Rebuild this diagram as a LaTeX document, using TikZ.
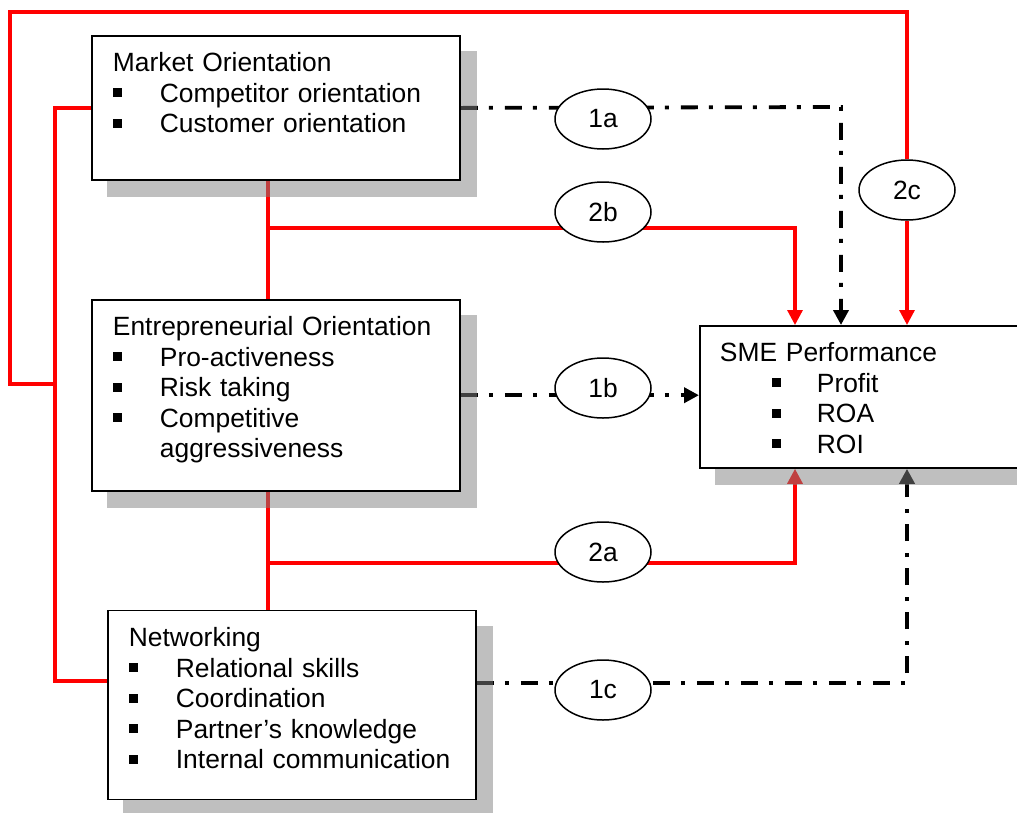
\documentclass[tikz,border=0pt]{standalone}
\usepackage{fontspec}
\setmainfont{Liberation Sans}
\usetikzlibrary{positioning,shapes.geometric,arrows.meta}

\definecolor{linkred}{RGB}{255,0,0}
\newcommand{\itm}[1]{\mbox{\makebox[47pt][l]{\raisebox{5pt}{\rule{9pt}{9pt}}}#1}}
\newcommand{\sitm}[1]{\mbox{\hspace*{52pt}\makebox[45pt][l]{\raisebox{5pt}{\rule{9pt}{9pt}}}#1}}

\pgfdeclarelayer{lines}
\pgfdeclarelayer{shade}
\pgfsetlayers{lines,shade,main}

\tikzset{
  construct/.style={draw,line width=1.8pt,fill=white,anchor=north west,align=left,
    inner xsep=21pt,inner ysep=16pt,text height=20pt,text width=326pt},
  hyp/.style={ellipse,draw,line width=1.5pt,fill=white,minimum width=96pt,minimum height=60pt,inner sep=0pt},
  direct/.style={black,line width=3.8pt,dash pattern=on 17pt off 11pt on 4pt off 12pt},
  moderate/.style={linkred,line width=3.2pt},
  arrowhead/.style={-{Triangle[width=15pt,length=15pt]}},
  boxshadow/.style={fill=black!50,fill opacity=0.5}
}

\begin{document}
\begin{tikzpicture}[x=1pt,y=-1pt,node distance=118pt,font=\fontsize{26.4}{30.5}\selectfont]
  \useasboundingbox (0,0) rectangle (1017,812);

  \node[construct,text depth=92pt] (market) at (91,35) {Market Orientation\\\itm{Competitor orientation}\\\itm{Customer orientation}};
  \node[construct,text depth=139pt] (entre) [below=of market] {Entrepreneurial Orientation\\\itm{Pro-activeness}\\\itm{Risk taking}\\\itm{Competitive}\\\hspace*{47pt}aggressiveness};
  \node[construct,text depth=137pt] (net) [below=of entre,xshift=16pt] {Networking\\\itm{Relational skills}\\\itm{Coordination}\\\itm{Partner’s knowledge}\\\itm{Internal communication}};
  \node[construct,text width=301pt,inner xsep=20pt,text depth=90pt] (sme) at (699,325) {SME Performance\\\sitm{Profit}\\\sitm{ROA}\\\sitm{ROI}};

  \node[hyp] (h1a) at (603,119) {1a};
  \node[hyp] (h2b) at (603,212) {2b};
  \node[hyp] (h2c) at (907,190) {2c};
  \node[hyp] (h1b) at (603,388) {1b};
  \node[hyp] (h2a) at (603,552) {2a};
  \node[hyp] (h1c) at (603,690) {1c};

  \coordinate (outer_corner) at (10,12);
  \coordinate (left_join) at (55,384);
  \coordinate (upper_bus) at (268,228);
  \coordinate (lower_bus) at (268,563);
  \coordinate (upper_turn) at (795,228);
  \coordinate (lower_turn) at (795,563);
  \coordinate (direct_turn) at (841,107);

  \begin{pgfonlayer}{lines}
    % moderating paths
    \draw[moderate] (market.west) -| (left_join) |- ([yshift=24pt]net.west);
    \draw[moderate] (h2c.north) |- (outer_corner) |- (left_join);
    \draw[moderate,arrowhead] (h2c.south) -- (h2c |- sme.north);
    \draw[moderate] (market.south -| upper_bus) -- (entre.north -| upper_bus);
    \draw[moderate,arrowhead] (upper_bus) -- (upper_turn) -- (upper_turn |- sme.north);
    \draw[moderate] (entre.south -| lower_bus) -- (net.north -| lower_bus);
    \draw[moderate,arrowhead] (lower_bus) -- (lower_turn) -- (lower_turn |- sme.south);
    % direct paths
    \draw[direct,arrowhead] (market.east) -- (direct_turn) -- (direct_turn |- sme.north);
    \draw[direct,arrowhead] (entre.east) -- (entre.east -| sme.west);
    \draw[direct,arrowhead] ([yshift=22pt]net.east) -| (h2c |- sme.south);
  \end{pgfonlayer}

  \begin{pgfonlayer}{shade}
    \foreach \blk in {market,entre,net,sme}
      \fill[boxshadow] ([shift={(16,16)}]\blk.north west) rectangle ([shift={(16,16)}]\blk.south east);
  \end{pgfonlayer}
\end{tikzpicture}
\end{document}
